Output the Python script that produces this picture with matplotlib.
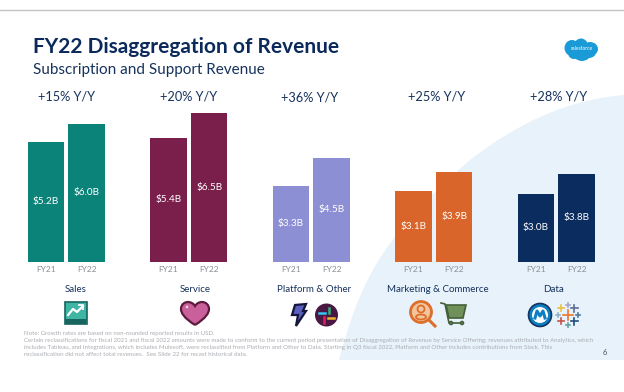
import numpy as np
import matplotlib
matplotlib.use("Agg")
import matplotlib.pyplot as plt
from matplotlib.patches import Circle, Ellipse, Polygon, Rectangle, PathPatch
from matplotlib.path import Path

plt.rcParams['font.family'] = ['Lato', 'DejaVu Sans']

segments = ['Sales', 'Service', 'Platform & Other', 'Marketing & Commerce', 'Data']
growth = ['+15% Y/Y', '+20% Y/Y', '+36% Y/Y', '+25% Y/Y', '+28% Y/Y']
fy21 = [5.2, 5.4, 3.3, 3.1, 2.93]
fy22 = [6.0, 6.5, 4.5, 3.9, 3.8]
fy21_labels = ['$5.2B', '$5.4B', '$3.3B', '$3.1B', '$3.0B']
fy22_labels = ['$6.0B', '$6.5B', '$4.5B', '$3.9B', '$3.8B']
colors = ['#0b8378', '#7a1f4b', '#8c8fd3', '#d9652a', '#0b2c5e']
years = ['FY21', 'FY22']

navy = '#16325c'
W, H = 624, 392
fig = plt.figure(figsize=(W / 100, H / 100), dpi=100, facecolor='white')

# background layer in pixel coords, y down
bg = fig.add_axes([0, 0, 1, 1])
bg.set_xlim(0, W)
bg.set_ylim(H, 0)
bg.axis('off')

curve = Path([(624, 95), (565, 100), (515, 125), (470, 160),
              (435, 190), (405, 220), (380, 258),
              (360, 290), (348, 325), (339, 360),
              (624, 360), (624, 95)],
             [Path.MOVETO] + [Path.CURVE4] * 9 + [Path.LINETO, Path.CLOSEPOLY])
bg.add_patch(PathPatch(curve, fc='#e8f2fb', ec='none'))
bg.plot([0, W], [9.5, 9.5], color='#c4c4c4', lw=1)

# bars
baseline = 261.5
px_per_b = 22.9
ax = fig.add_axes([0, (H - baseline) / H, 1, baseline / H])
ax.patch.set_alpha(0)
ax.set_xlim(0, W)
ax.set_ylim(0, baseline / px_per_b)
ax.axis('off')

lefts = np.array([46, 168.5, 291, 413.5, 536])
gap = 40.7
bar_w = 36.5
ax.bar(lefts, fy21, width=bar_w, color=colors)
ax.bar(lefts + gap, fy22, width=bar_w, color=colors)

for i in range(5):
    ax.text(lefts[i], fy21[i] / 2, fy21_labels[i], color='white', fontsize=7.2,
            ha='center', va='center')
    ax.text(lefts[i] + gap, fy22[i] / 2, fy22_labels[i], color='white', fontsize=7.2,
            ha='center', va='center')
    bg.text(lefts[i], 270, years[0], color='#8a8f96', fontsize=6, ha='center', va='center')
    bg.text(lefts[i] + gap, 270, years[1], color='#8a8f96', fontsize=6, ha='center', va='center')

label_x = [75.5, 195, 314.5, 437.5, 553.5]
growth_x = [66, 189, 310, 437, 559]
growth_y = [96.5, 96, 97, 96, 96.5]
for i in range(5):
    bg.text(label_x[i], 289.5, segments[i], color=navy, fontsize=7, ha='center', va='center')
    bg.text(growth_x[i], growth_y[i], growth[i], color=navy, fontsize=9.2, ha='center', va='center')

bg.text(33, 47, 'FY22 Disaggregation of Revenue', color='#0b2a5b', fontsize=15,
        fontweight='bold', ha='left', va='center')
bg.text(33, 70, 'Subscription and Support Revenue', color=navy, fontsize=11,
        ha='left', va='center')

# salesforce cloud
for cx, cy, rx, ry in [(572, 48, 7.5, 8), (581, 46, 7, 7.5), (590, 49, 8, 7),
                       (582, 53, 9, 8), (574, 53, 6, 6), (589, 52, 7, 6)]:
    bg.add_patch(Ellipse((cx, cy), rx * 2, ry * 2, fc='#1a9bd7', ec='none'))
bg.text(581.5, 48.5, 'salesforce', color='white', fontsize=3.6, ha='center', va='center')

# sales icon
bg.add_patch(Rectangle((64.5, 302), 22, 22, fc='#3fb5a5', ec='#17655e', lw=1.2))
bg.plot([68, 73, 77, 83], [315, 309, 312, 306], color='white', lw=1.6)
bg.plot([79, 83, 83], [305, 305, 309], color='white', lw=1.3)
bg.add_patch(Rectangle((65, 319), 21, 5, fc='#17655e', ec='none'))

# service heart
heart = Path([(195, 325), (184, 318), (181, 313), (181, 309),
              (181, 304), (185, 302), (188, 302),
              (191, 302), (194, 304), (195, 306),
              (196, 304), (199, 302), (202, 302),
              (206, 302), (209, 305), (209, 309),
              (209, 313), (206, 318), (195, 325)],
             [Path.MOVETO] + [Path.CURVE4] * 18)
bg.add_patch(PathPatch(heart, fc='#c9609b', ec='#5c1b3c', lw=1.6))
bg.add_patch(Circle((187, 307), 1.3, fc='#f2d5e5', ec='none'))

# platform bolt and slack
bolt = [(295, 305), (306, 304), (303, 311), (306, 311), (296, 326), (298, 315), (292, 315)]
bg.add_patch(Polygon(bolt, closed=True, fc='#5a5fc0', ec='#14163c', lw=1.6))
bg.add_patch(Circle((326.5, 315), 11.5, fc='#4a1642', ec='none'))
bg.plot([319, 325], [312.5, 312.5], color='#36c5f0', lw=1.8)
bg.plot([329, 329], [307.5, 313], color='#2eb67d', lw=1.8)
bg.plot([328, 334], [317.5, 317.5], color='#ecb22e', lw=1.8)
bg.plot([324, 324], [317, 322.5], color='#e01e5a', lw=1.8)

# marketing magnifier and cart
bg.add_patch(Circle((421, 312), 10.5, fc='#f4c49c', ec='#dc6f2b', lw=2))
bg.add_patch(Circle((421, 309), 3.5, fc='#f4c49c', ec='#dc6f2b', lw=1.3))
bg.add_patch(Ellipse((421, 317), 10, 5, fc='none', ec='#dc6f2b', lw=1.3))
bg.plot([429, 435], [320, 326], color='#dc6f2b', lw=2.2)
bg.add_patch(Polygon([(446, 305), (466, 305), (463, 318), (449, 318)], closed=True,
                     fc='#6f9058', ec='#44603a', lw=1.2))
bg.plot([441, 445, 449, 463], [303, 304, 323, 323], color='#44603a', lw=1.2)
bg.add_patch(Circle((451, 323), 1.6, fc='white', ec='#44603a', lw=1))
bg.add_patch(Circle((462, 323), 1.6, fc='white', ec='#44603a', lw=1))

# data mule and tableau
bg.add_patch(Circle((540, 315), 11.5, fc='#0d7fc2', ec='#12355f', lw=1.2))
bg.add_patch(Circle((540, 315), 8, fc='white', ec='none'))
bg.plot([535, 537, 540, 543, 545], [318, 311, 316, 311, 318], color='#0d7fc2', lw=2.2)
tab = [(568, 315, 5, '#e8762c'), (561, 308, 3, '#edc13e'), (574, 308, 3.5, '#5b6f95'),
       (561, 321, 3, '#c7504a'), (574, 321, 3.5, '#1f4f80'), (568, 305, 2, '#a5a5c8'),
       (568, 325, 2, '#5fa2a6'), (558, 315, 2, '#8fb0c9'), (578, 315, 2, '#4c7a9c')]
for x, y, s, c in tab:
    bg.plot([x - s, x + s], [y, y], color=c, lw=1.2)
    bg.plot([x, x], [y - s, y + s], color=c, lw=1.2)

# footnote
notes = ['Note: Growth rates are based on non-rounded reported results in USD.',
         'Certain reclassifications for fiscal 2021 and fiscal 2022 amounts were made to conform to the current period presentation of Disaggregation of Revenue by Service Offering; revenues attributed to Analytics, which',
         'includes Tableau, and Integrations, which includes Mulesoft, were reclassified from Platform and Other to Data. Starting in Q3 fiscal 2022, Platform and Other includes contributions from Slack. This',
         'reclassification did not affect total revenues.  See Slide 22 for recast historical data.']
note_y = [333.5, 340.5, 347.5, 354.5]
for t, y in zip(notes, note_y):
    bg.text(24, y, t, color='#a9adb3', fontsize=4.4, ha='left', va='center')
bg.text(604.5, 352.5, '6', color='#4a5563', fontsize=5.5, ha='center', va='center')

fig.savefig('out.png', dpi=100)
